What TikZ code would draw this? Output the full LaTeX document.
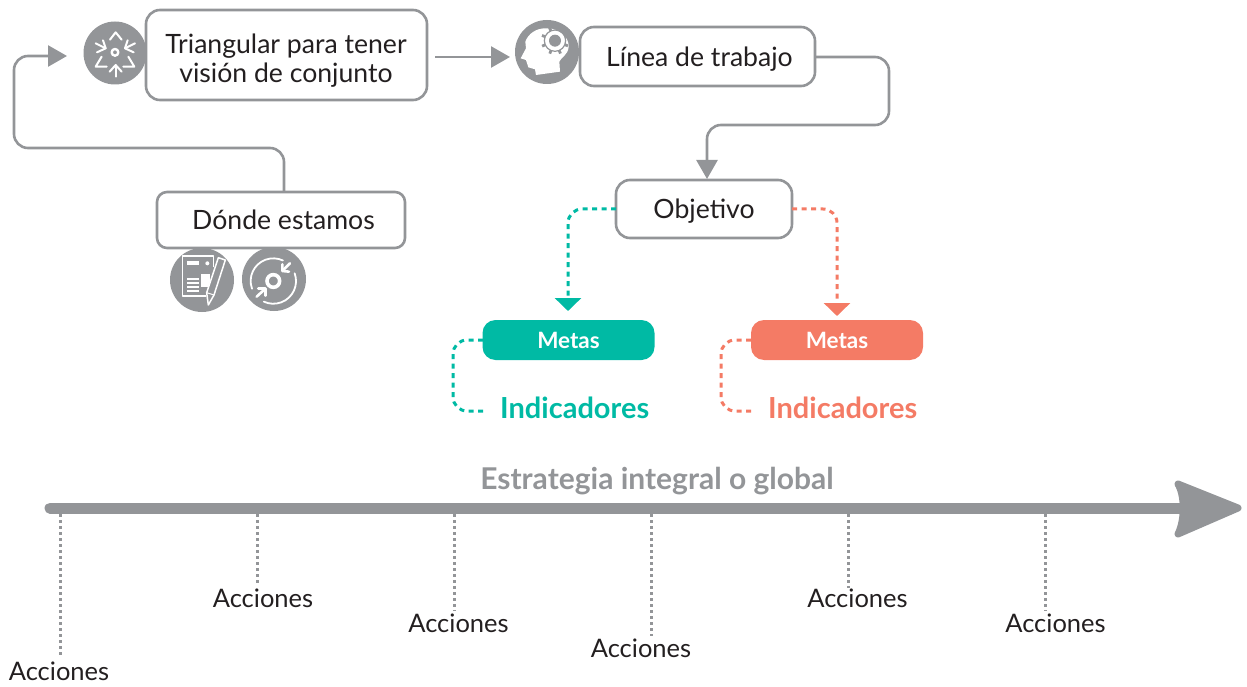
\documentclass[tikz,border=0pt]{standalone}
\usepackage{fontspec}
\setmainfont{Lato}
\usetikzlibrary{arrows.meta}
\definecolor{grayc}{HTML}{939598}
\definecolor{tealc}{HTML}{00BAA4}
\definecolor{coralc}{HTML}{F47B65}
\definecolor{inkc}{HTML}{231F20}
\tikzset{
  boxn/.style={draw=grayc,line width=2.6pt,rounded corners=14pt,fill=white,text=inkc,align=center,font=\fontsize{26.6}{29}\selectfont,inner sep=0pt},
  boxt/.style={inner sep=0pt,text=inkc,align=center,font=\fontsize{26.6}{29}\selectfont},
  conn/.style={draw=grayc,line width=2.6pt,rounded corners=14pt,-{Triangle[width=21pt,length=19pt]}},
  dashc/.style={line width=3pt,rounded corners=14pt,dash pattern=on 5pt off 4.5pt},
  metan/.style={rounded corners=13pt,minimum width=172pt,minimum height=40pt,inner sep=0pt,text=white,font=\fontsize{22.5}{24}\selectfont\bfseries},
  indn/.style={font=\fontsize{29}{32}\selectfont\bfseries,inner sep=0pt},
  iconc/.style={circle,fill=grayc,minimum size=64pt,inner sep=0pt},
  acc/.style={text=inkc,font=\fontsize{25.5}{29}\selectfont,inner sep=0pt},
  dotl/.style={draw=grayc,line width=3pt,dash pattern=on 3.2pt off 2.8pt},
  wl/.style={draw=white,line width=2pt,line cap=round,line join=round},
}
\begin{document}
\begin{tikzpicture}[x=1pt,y=-1pt]
\useasboundingbox (0,0) rectangle (1247,687);
% main boxes
\node[boxn,minimum width=281pt,minimum height=90pt] (tri) at (286.5,55) {};
\node[boxt] (trit) at (286,61) {Triangular para tener\\visión de conjunto};
\node[boxn,minimum width=235pt,minimum height=59pt] (lin) at (697.5,56.5) {};
\node[boxt] (lint) at (699.5,59) {Línea de trabajo};
\node[boxn,minimum width=176pt,minimum height=58pt] (obj) at (704,209) {};
\node[boxt] (objt) at (704,211) {Objetivo};
\node[boxn,minimum width=248pt,minimum height=56pt,rounded corners=10pt] (don) at (281,220) {};
\node[boxt] (dont) at (283.5,219.5) {Dónde estamos};
% icon circles
\node[iconc,minimum size=63pt] (ictri) at (115,53) {};
\node[iconc] (ichead) at (547,52) {};
\node[iconc] (icdoc) at (202,280) {};
\node[iconc] (icdisk) at (274,279) {};
% connectors
\coordinate (donTop) at (284,191);
\coordinate (triIn) at (67,56);
\coordinate (triOut) at (435,57);
\coordinate (headIn) at (510,57);
\coordinate (linOut) at (815,57);
\coordinate (objIn) at (707,179);
\draw[conn] (donTop) -- (284,148) -- (14,148) -- (14,56) -- (triIn);
\draw[conn] (triOut) -- (headIn);
\draw[conn] (linOut) -- (889,57) -- (889,125) -- (707,125) -- (objIn);
% metas
\node[metan,fill=tealc] (mt) at (568.5,340) {Metas};
\node[metan,fill=coralc] (mc) at (837,340) {Metas};
\node[indn,text=tealc,anchor=west] (it) at (500,408) {Indicadores};
\node[indn,text=coralc,anchor=west] (ic) at (768,408) {Indicadores};
\coordinate (objL) at (616,209);
\coordinate (objR) at (792,209);
\coordinate (mtIn) at (568,311);
\coordinate (mcIn) at (837,316);
\draw[dashc,draw=tealc,-{Triangle[width=26pt,length=13pt,sep=0pt]}] (objL) -- (568,209) -- (mtIn);
\draw[dashc,draw=coralc,-{Triangle[width=26pt,length=13pt,sep=0pt]}] (objR) -- (837,209) -- (mcIn);
\coordinate (mtL) at (483,340);
\coordinate (mcL) at (751,340);
\coordinate (itL) at (487,411);
\coordinate (icL) at (754,411);
\draw[dashc,draw=tealc] (mtL) -- (453,340) -- (453,411) -- (itL);
\draw[dashc,draw=coralc] (mcL) -- (721,340) -- (721,411) -- (icL);
% timeline
\node[font=\fontsize{30}{33}\selectfont\bfseries,text=grayc,inner sep=0pt] (est) at (657,481) {Estrategia integral o global};
\coordinate (tlA) at (50,508);
\coordinate (tlB) at (1185,508);
\draw[grayc,line width=11pt,line cap=round] (tlA) -- (tlB);
\fill[grayc,draw=grayc,line width=7pt,line join=round] (1178,484) -- (1238,508) -- (1178,534) .. controls (1185,520) and (1185,496) .. (1178,484) -- cycle;
% actions
\node[acc] (a1) at (59,671) {Acciones};
\node[acc] (a2) at (263,598) {Acciones};
\node[acc] (a3) at (458.5,623) {Acciones};
\node[acc] (a4) at (641,648) {Acciones};
\node[acc] (a5) at (857.5,598) {Acciones};
\node[acc] (a6) at (1055.5,623) {Acciones};
\coordinate (t1) at (60,514); \coordinate (e1) at (60,655);
\coordinate (t2) at (257,514); \coordinate (e2) at (257,585);
\coordinate (t3) at (454,514); \coordinate (e3) at (454,611);
\coordinate (t4) at (651,514); \coordinate (e4) at (651,636);
\coordinate (t5) at (848,514); \coordinate (e5) at (848,588);
\coordinate (t6) at (1045,514); \coordinate (e6) at (1045,611);
\foreach \i in {1,...,6} \draw[dotl] (t\i) -- (e\i);
% icon: triangulate
\begin{scope}[shift={(75,15)},x=0.3333pt,y=-0.3333pt]
\draw[wl,line width=2.4pt] (120,112) circle (10);
\draw[wl] (105,74) -- (122,52) -- (140,74);
\draw[wl] (122,185) -- (122,152); \draw[wl] (104,170) -- (122,150) -- (140,170);
\draw[wl] (62,85) -- (92,100); \draw[wl] (66,112) -- (92,100) -- (84,76);
\draw[wl] (180,85) -- (150,100); \draw[wl] (176,112) -- (150,100) -- (158,76);
\draw[wl] (80,125) -- (62,155) -- (95,155);
\draw[wl] (160,125) -- (178,155) -- (145,155);
\end{scope}
% icon: document and pencil
\begin{scope}[shift={(150,180)},x=0.3333pt,y=-0.3333pt]
\draw[white,line width=1.5pt,line join=round] (190,262) -- (190,228) -- (98,228) -- (98,348) -- (168,348);
\fill[white] (110,244) rectangle (146,255);
\fill[white] (172,250) circle (6);
\foreach \yy in {294,306,318,330} \fill[white] (110,\yy) rectangle (146,\yy+6);
\fill[white] (153,282) rectangle (180,322);
\draw[wl,line width=1.5pt,fill=grayc] (205,233) -- (226,240) -- (192,345) -- (175,375) -- (170,338) -- cycle;
\draw[wl,line width=1pt] (170,338) -- (192,345);
\end{scope}
% icon: disk
\begin{scope}[shift={(165,245)},x=0.3333pt,y=-0.3333pt]
\draw[white,line width=3.6pt] (325,108) circle (19);
\draw[wl,line width=1.8pt] (261.1,131.3) arc[start angle=-200,end angle=-65,radius=68];
\draw[wl,line width=1.8pt] (389,85) arc[start angle=-20,end angle=115,radius=68];
\draw[wl,line width=2.6pt] (375,55) -- (354,76); \draw[wl,line width=2.6pt] (352,58) -- (352,78) -- (372,80);
\draw[wl,line width=2.6pt] (275,155) -- (298,134); \draw[wl,line width=2.6pt] (280,130) -- (302,130) -- (302,152);
\end{scope}
% icon: head with gear
\begin{scope}[shift={(500,10)},x=0.3333pt,y=-0.3333pt]
\fill[white,line join=round] (108,195) -- (105,178) -- (85,172) -- (78,150) -- (62,145) -- (78,115) -- (76,95) .. controls (85,70) and (110,55) .. (135,55) .. controls (180,52) and (208,85) .. (206,110) .. controls (205,135) and (180,145) .. (178,155) -- (180,185) -- cycle;
\fill[grayc] (165,92) circle (18);
\draw[grayc,line width=1.2pt] (165,92) circle (32);
\foreach \a in {0,45,...,315} \draw[grayc,line width=2.8pt] (165,92) ++(\a+22:31) -- ++(\a+22:11);
\end{scope}
\end{tikzpicture}
\end{document}
